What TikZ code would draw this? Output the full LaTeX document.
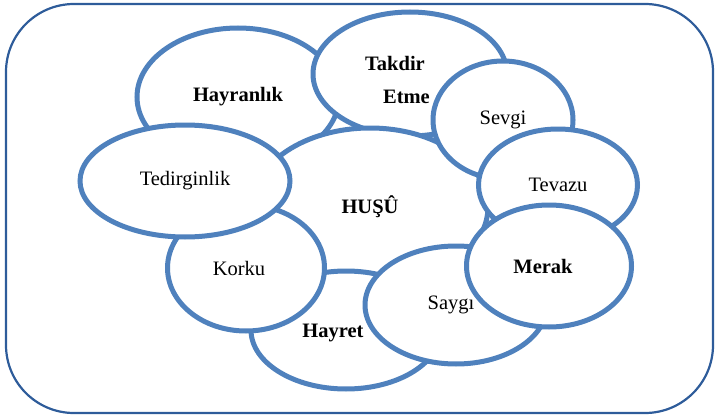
\documentclass[tikz,border=0pt]{standalone}
\usepackage{fontspec}
\setmainfont{Liberation Serif}
\usepackage{tikz}
\usetikzlibrary{
  shapes.geometric, % ellipse
}
\definecolor{bubbleblue}{HTML}{4F81BD}
\definecolor{frameblue}{HTML}{2E5C9A}
\tikzset{
  x=1pt,
  y=-1pt,
  bubble/.style={
    ellipse,
    draw=bubbleblue,
    line width=5pt,
    fill=white,
    inner sep=0pt,
    align=center,
    font=\fontsize{20.5}{33}\selectfont
  },
  strong/.style={
    bubble,
    font=\fontsize{20.5}{33}\selectfont\bfseries
  }
}

\begin{document}
\begin{tikzpicture}
\useasboundingbox (0,0) rectangle (715,420);
\draw[frameblue,line width=2.2pt,rounded corners=68pt] (6,4) rectangle (713,413);
% back to front
\node[strong,minimum width=202,minimum height=138] (hayran) at (238,97) {Hayranlık};
\node[strong,minimum width=194,minimum height=124,align=right,text height=60pt]
  (takdir) at (410,74) {Takdir\hspace*{30pt}\\Etme\hspace*{25pt}};
\node[strong,minimum width=236,minimum height=158] (husu)   at (370,207) {HUŞÛ};
\node[bubble,minimum width=140,minimum height=118] (sevgi)  at (503,120) {Sevgi};
\node[bubble,minimum width=159,minimum height=112] (tevazu) at (558,185) {Tevazu};
\node[strong,minimum width=190,minimum height=118,text height=20pt] (hayret) at (346,330) {Hayret\hspace*{26pt}};
\node[bubble,minimum width=157,minimum height=126] (korku)  at (246,268) {Korku\hspace*{14pt}};
\node[bubble,minimum width=210,minimum height=112] (tedir)  at (185,181) {Tedirginlik};
\node[bubble,minimum width=182,minimum height=118] (saygi)  at (456,305) {Saygı\hspace*{10pt}};
\node[strong,minimum width=165,minimum height=122] (merak)  at (549,266) {Merak\hspace*{12pt}};
\end{tikzpicture}
\end{document}
